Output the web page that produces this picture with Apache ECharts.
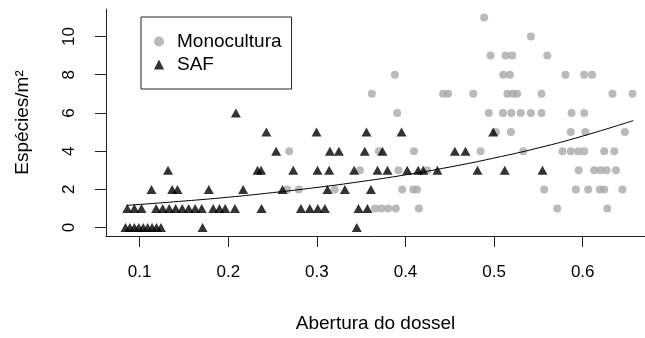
<!DOCTYPE html>
<html>
<head>
<meta charset="utf-8">
<script src="https://cdn.jsdelivr.net/npm/echarts@6/dist/echarts.min.js"></script>
<style>
html,body{margin:0;padding:0;background:#fff;}
#c{width:645px;height:338px;}
</style>
</head>
<body>
<div id="c"></div>
<script>
const xTicks = [0.1, 0.2, 0.3, 0.4, 0.5, 0.6];
const yTicks = [0, 2, 4, 6, 8, 10];

// SAF (triangles) [abertura, especies]
const safPoints = [
  [0.084,0],[0.089,0],[0.094,0],[0.099,0],[0.104,0],[0.109,0],[0.114,0],[0.119,0],[0.124,0],[0.171,0],[0.345,0],
  [0.086,1],[0.094,1],[0.102,1],[0.1186,1],[0.126,1],[0.1333,1],[0.1406,1],[0.148,1],[0.1553,1],[0.1626,1],[0.170,1],
  [0.183,1],[0.190,1],[0.1965,1],[0.2075,1],[0.2375,1],[0.282,1],[0.292,1],[0.301,1],[0.309,1],[0.347,1],[0.357,1],
  [0.1133,2],[0.1367,2],[0.1427,2],[0.178,2],[0.2168,2],[0.2612,2],[0.312,2],[0.3316,2],[0.361,2],
  [0.132,3],[0.233,3],[0.237,3],[0.2733,3],[0.3007,3],[0.3139,3],[0.342,3],[0.3684,3],[0.3797,3],[0.402,3],
  [0.4143,3],[0.420,3],[0.436,3],[0.4813,3],[0.512,3],[0.5546,3],
  [0.254,4],[0.3147,4],[0.3248,4],[0.354,4],[0.374,4],[0.4557,4],[0.4677,4],
  [0.243,5],[0.2996,5],[0.356,5],[0.3955,5],[0.499,5],
  [0.2086,6]
];

// Monocultura (grey circles) [abertura, especies]
const monoPoints = [
  [0.3655,1],[0.373,1],[0.3805,1],[0.389,1],[0.4151,1],[0.5712,1],[0.6277,1],
  [0.2665,2],[0.2797,2],[0.320,2],[0.3963,2],[0.4087,2],[0.413,2],[0.5565,2],[0.5923,2],[0.6062,2],[0.6194,2],[0.6243,2],[0.6449,2],
  [0.3485,3],[0.392,3],[0.4245,3],[0.5955,3],[0.613,3],[0.620,3],[0.627,3],[0.6375,3],
  [0.2688,4],[0.370,4],[0.4095,4],[0.4847,4],[0.5329,4],[0.5772,4],[0.5866,4],[0.5949,4],[0.6017,4],[0.6243,4],[0.6356,4],
  [0.502,5],[0.519,5],[0.5866,5],[0.603,5],[0.6476,5],
  [0.3906,6],[0.494,6],[0.510,6],[0.5195,6],[0.530,6],[0.5415,6],[0.5535,6],[0.5874,6],[0.6017,6],
  [0.362,7],[0.4425,7],[0.448,7],[0.4764,7],[0.515,7],[0.521,7],[0.526,7],[0.5535,7],[0.6336,7],[0.6562,7],
  [0.388,8],[0.5103,8],[0.5178,8],[0.5806,8],[0.6017,8],[0.6107,8],
  [0.496,9],[0.513,9],[0.5205,9],[0.560,9],
  [0.5415,10],
  [0.4888,11]
];

// fitted curve
const fitX = [0.085, 0.15, 0.20, 0.25, 0.30, 0.35, 0.40, 0.45, 0.50, 0.55, 0.60, 0.657];
const fitY = [1.16, 1.39, 1.59, 1.83, 2.10, 2.41, 2.76, 3.17, 3.64, 4.17, 4.79, 5.60];

const font = 'Liberation Sans, Arial, sans-serif';
const chart = echarts.init(document.getElementById('c'), null, {renderer: 'canvas'});
chart.setOption({
  animation: false,
  backgroundColor: '#fff',
  textStyle: {fontFamily: font},
  grid: {left: 106, top: 9, right: 0, height: 229, containLabel: false},
  legend: {
    orient: 'vertical',
    left: 141, top: 17,
    padding: [15, 10, 15, 13],
    itemGap: 4,
    itemWidth: 10, itemHeight: 10,
    borderColor: '#222', borderWidth: 1,
    textStyle: {fontSize: 19, color: '#000', fontFamily: font, padding: [0, 0, 0, 8]},
    data: [{name: 'Monocultura', icon: 'circle'}, {name: 'SAF', icon: 'triangle'}]
  },
  xAxis: {
    type: 'value', min: 0.062, max: 0.6703,
    name: 'Abertura do dossel', nameLocation: 'middle', nameGap: 78,
    nameTextStyle: {fontSize: 19, color: '#000', fontFamily: font},
    axisLine: {show: true, onZero: false, lineStyle: {color: '#222', width: 1}},
    axisTick: {show: true, length: 11, customValues: xTicks, lineStyle: {color: '#222'}},
    axisLabel: {customValues: xTicks, fontSize: 17, color: '#000', margin: 28, fontFamily: font,
      formatter: v => v.toFixed(1)},
    splitLine: {show: false}
  },
  yAxis: {
    type: 'value', min: -0.44, max: 11.44,
    name: 'Espécies/m²', nameLocation: 'middle', nameGap: 74,
    nameTextStyle: {fontSize: 19, color: '#000', fontFamily: font},
    axisLine: {show: true, onZero: false, lineStyle: {color: '#222', width: 1}},
    axisTick: {show: true, length: 11, customValues: yTicks, lineStyle: {color: '#222'}},
    axisLabel: {customValues: yTicks, fontSize: 17, color: '#000', margin: 28, rotate: 90, fontFamily: font},
    splitLine: {show: false}
  },
  series: [
    {name: 'Monocultura', type: 'scatter', data: monoPoints, symbol: 'circle', symbolSize: 8,
      itemStyle: {color: '#a9a9a9'}, z: 2},
    {name: 'SAF', type: 'scatter', data: safPoints, symbol: 'triangle', symbolSize: [10, 9],
      itemStyle: {color: '#000'}, z: 3},
    {name: 'ajuste', type: 'line', data: fitX.map((x, i) => [x, fitY[i]]), smooth: true,
      showSymbol: false, symbol: 'none', lineStyle: {color: '#000', width: 1}, z: 4, silent: true}
  ]
});
</script>
</body>
</html>
